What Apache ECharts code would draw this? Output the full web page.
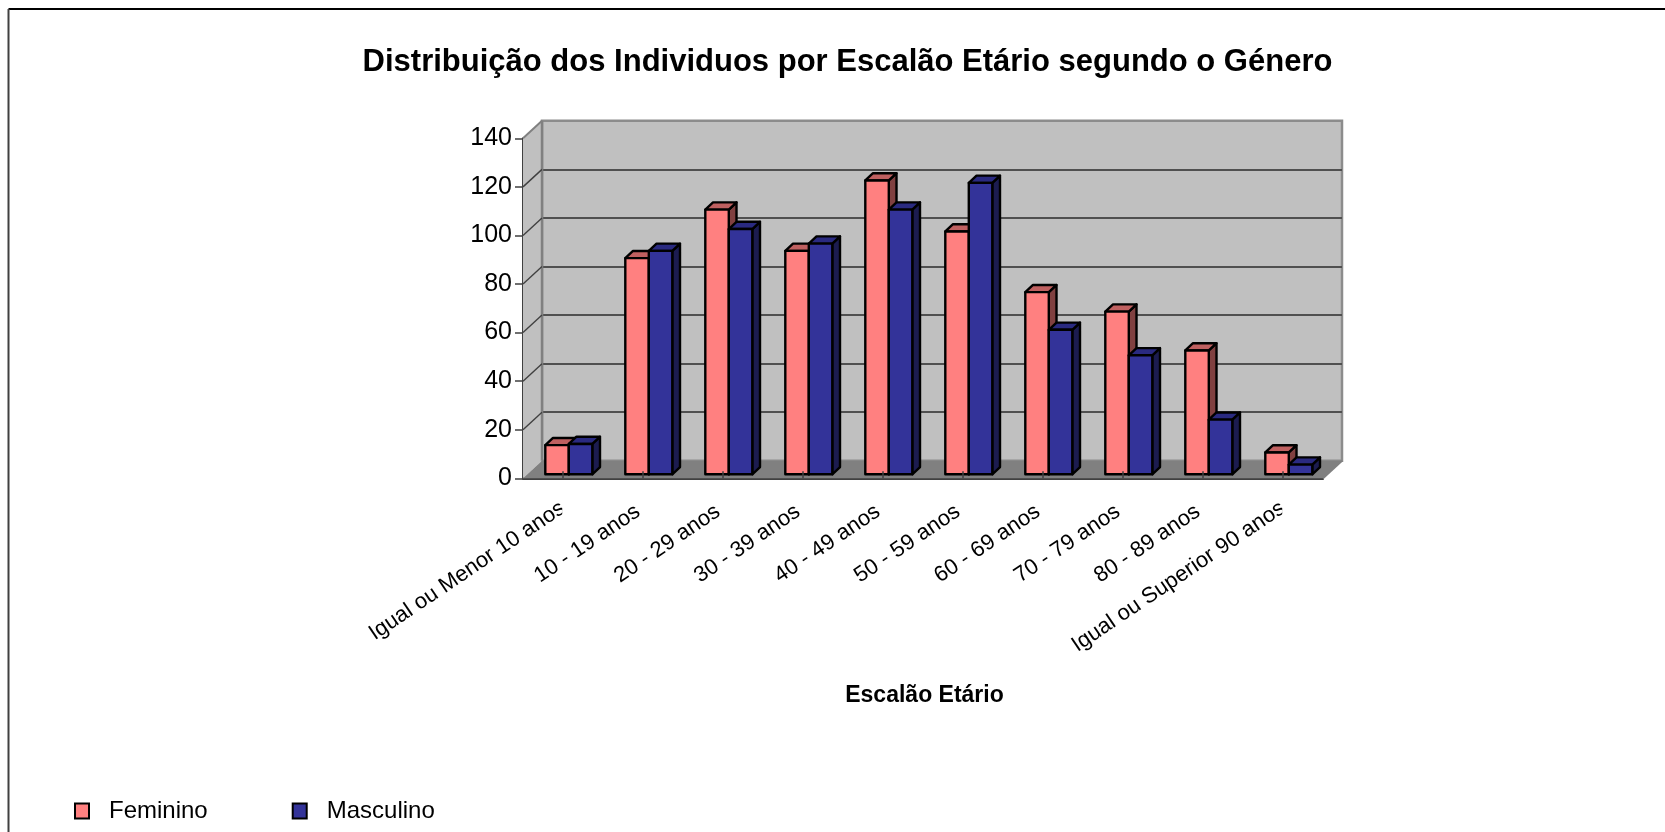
<!DOCTYPE html>
<html><head><meta charset="utf-8">
<style>html,body{margin:0;padding:0;background:#fff}#c{width:1665px;height:832px}</style>
<script src="https://cdn.jsdelivr.net/npm/echarts@6/dist/echarts.min.js"></script>
</head><body><div id="c"></div>
<script>
const categories = ['Igual ou Menor 10 anos','10 - 19 anos','20 - 29 anos','30 - 39 anos','40 - 49 anos','50 - 59 anos','60 - 69 anos','70 - 79 anos','80 - 89 anos','Igual ou Superior 90 anos'];
const feminino = [12,89,109,92,121,100,75,67,51,9];
const masculino = [12.5,92,101,95,109,120,59.5,49,22.5,4];
const yTicks = [0,20,40,60,80,100,120,140];

const FONT = '"Liberation Sans", Arial, sans-serif';
const WALL = {dx:19, dy:-17.5};
const BAR = {w:23.5, gx:22.3, bx:7.7, by:7.2, up:4};

function poly(points, fill, stroke, lw){
  return {type:'polygon', shape:{points}, style:{fill, stroke, lineWidth:lw||0}};
}
function line(a,b,stroke,lw){
  return {type:'line', shape:{x1:a[0],y1:a[1],x2:b[0],y2:b[1]}, style:{stroke, lineWidth:lw, fill:null}};
}
function barItem(slot, face, top, side){
  return function(params, api){
    const cat = api.value(0), val = api.value(1);
    const band = api.size([1,0])[0];
    const base = api.coord([cat,0]), head = api.coord([cat,val]);
    const x0 = base[0]-band/2+BAR.gx+slot*BAR.w, x1 = x0+BAR.w;
    const yb = base[1]-BAR.up, yt = head[1]-BAR.up;
    const s = {stroke:'#000', lineWidth:2.4, lineJoin:'round'};
    const mk = (pts,fill)=>({type:'polygon',shape:{points:pts},style:Object.assign({fill},s)});
    return {type:'group', children:[
      mk([[x1,yt],[x1+BAR.bx,yt-BAR.by],[x1+BAR.bx,yb-BAR.by],[x1,yb]], side),
      mk([[x0,yt],[x0+BAR.bx,yt-BAR.by],[x1+BAR.bx,yt-BAR.by],[x1,yt]], top),
      mk([[x0,yt],[x1,yt],[x1,yb],[x0,yb]], face)
    ]};
  };
}
function wallsItem(params, api){
  const c = params.coordSys, L=c.x, R=c.x+c.width, T=c.y, B=c.y+c.height;
  const g = [
    poly([[L,T],[L+WALL.dx,T+WALL.dy],[L+WALL.dx,B+WALL.dy],[L,B]], '#c0c0c0'),
    poly([[L,B],[L+WALL.dx,B+WALL.dy],[R+WALL.dx,B+WALL.dy],[R,B]], '#808080'),
    line([L,T],[L+WALL.dx,T+WALL.dy],'#808080',2),
    line([R,B],[R+WALL.dx,B+WALL.dy],'#808080',2),
    line([L+WALL.dx,T+WALL.dy],[L+WALL.dx,B+WALL.dy],'#808080',2.5)
  ];
  yTicks.forEach(v=>{ if(v>0&&v<140){const y=api.coord([0,v])[1]; g.push(line([L,y],[L+WALL.dx,y+WALL.dy],'#404040',1.4));}});
  return {type:'group', children:g};
}
function midTicks(params, api){
  const p = api.coord([api.value(0),0]);
  return line([p[0],p[1]],[p[0],p[1]-7],'#404040',1.5);
}
function maskItem(params, api){
  const p = api.coord([api.value(0),0]);
  return {type:'rect', shape:{x:p[0]-0.8,y:p[1]+18,width:11,height:24}, style:{fill:'#fff'}};
}

const chart = echarts.init(document.getElementById('c'), null, {renderer:'canvas'});
chart.setOption({
  animation:false,
  backgroundColor:'#fff',
  textStyle:{fontFamily:FONT},
  title:{text:'Distribuição dos Individuos por Escalão Etário segundo o Género',left:842.5,top:42,textAlign:'center',
    textStyle:{fontFamily:FONT,fontWeight:'bold',fontSize:31,color:'#000'}},
  legend:{left:74,top:799,padding:0,orient:'horizontal',itemWidth:14,itemHeight:15,itemGap:84,icon:'rect',
    data:['Feminino','Masculino'],selectedMode:false,
    textStyle:{fontFamily:FONT,fontSize:24,color:'#000',padding:[0,0,0,15]}},
  grid:[
    {left:523,top:138.3,width:800,height:340,show:false},
    {left:523+WALL.dx,top:138.3+WALL.dy,width:800,height:340,show:true,backgroundColor:'#c0c0c0',borderColor:'#8c8c8c',borderWidth:2.5}
  ],
  xAxis:[
    {type:'category',gridIndex:0,data:categories,
      name:'Escalão Etário',nameLocation:'middle',nameGap:206,
      nameTextStyle:{fontFamily:FONT,fontWeight:'bold',fontSize:23,color:'#000',padding:[0,0,0,3]},
      axisLine:{lineStyle:{color:'#404040',width:2}},
      axisTick:{show:true,inside:true,length:9,alignWithLabel:false,lineStyle:{color:'#404040',width:1.5}},
      axisLabel:{interval:0,rotate:34,margin:28,fontFamily:FONT,fontSize:22,color:'#000',hideOverlap:false,
        formatter:v=>v.startsWith('Igual')?v:'{s|'+v+'}',
        rich:{s:{fontFamily:FONT,fontSize:22,color:'#000',padding:[0,6,0,0]}}}},
    {type:'category',gridIndex:1,data:categories,show:false}
  ],
  yAxis:[
    {type:'value',gridIndex:0,min:0,max:140,interval:20,
      axisLine:{show:true,lineStyle:{color:'#404040',width:2}},
      axisTick:{show:true,length:8,lineStyle:{color:'#404040',width:1.5}},
      axisLabel:{margin:11,fontFamily:FONT,fontSize:25,color:'#000',padding:[0,0,4,0]},
      splitLine:{show:false}},
    {type:'value',gridIndex:1,min:0,max:140,interval:20,
      axisLine:{show:false},axisTick:{show:false},axisLabel:{show:false},
      splitLine:{show:true,showMinLine:false,showMaxLine:false,lineStyle:{color:'#505050',width:2}}}
  ],
  series:[
    {type:'custom',name:'walls',xAxisIndex:0,yAxisIndex:0,z:1,silent:true,clip:false,data:[[0,0]],renderItem:wallsItem},
    {type:'custom',name:'Feminino',xAxisIndex:0,yAxisIndex:0,z:3,clip:false,itemStyle:{color:'#ff8080',borderColor:'#000',borderWidth:2},
      data:feminino.map((v,i)=>[i,v]),encode:{x:0,y:1},renderItem:barItem(0,'#ff8080','#bf6060','#804040')},
    {type:'custom',name:'Masculino',xAxisIndex:0,yAxisIndex:0,z:4,clip:false,itemStyle:{color:'#333399',borderColor:'#000',borderWidth:2},
      data:masculino.map((v,i)=>[i,v]),encode:{x:0,y:1},renderItem:barItem(1,'#333399','#2a2a80','#1c1c50')},
    {type:'custom',name:'ticks',xAxisIndex:0,yAxisIndex:0,z:5,silent:true,clip:false,data:categories.map((c,i)=>[i,0]),renderItem:midTicks},
    {type:'custom',name:'mask',xAxisIndex:0,yAxisIndex:0,z:20,zlevel:1,silent:true,clip:false,data:[[0,0],[9,0]],renderItem:maskItem}
  ],
  graphic:[
    {type:'line',shape:{x1:8.5,y1:9,x2:1665,y2:9},style:{stroke:'#000',lineWidth:2}},
    {type:'line',shape:{x1:8.5,y1:9,x2:8.5,y2:832},style:{stroke:'#404040',lineWidth:2}}
  ]
});
</script></body></html>
